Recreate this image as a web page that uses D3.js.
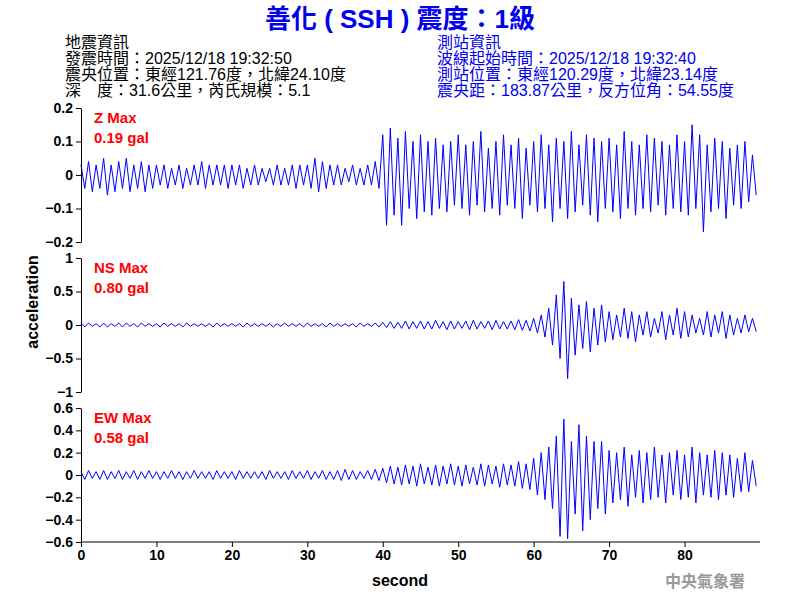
<!DOCTYPE html>
<html>
<head>
<meta charset="utf-8">
<title>SSH</title>
<style>
body{margin:0;background:#fff;}
text{font-family:"Liberation Sans","Noto Sans CJK TC",sans-serif;}
</style>
</head>
<body>
<script src="https://d3js.org/d3.v7.min.js"></script>
<script>
// per-second peak values (gal)
var zMax=[.03,.04,.03,.05,.03,.04,.05,.03,.04,.03,.03,.03,.02,.03,.02,.03,.04,.03,.03,.03,.03,.03,.02,.03,.02,.02,.03,.02,.03,.03,.03,.05,.04,.03,.03,.02,.03,.02,.03,.04,
 .12,.14,.11,.13,.10,.12,.10,.11,.09,.10,.12,.09,.10,.13,.08,.10,.12,.09,.11,.08,.10,.12,.09,.11,.10,.13,.09,.12,.11,.10,.11,.09,.13,.10,.09,.12,.11,.10,.09,.12,.10,.15,.12,.09,.11,.10,.08,.09,.10,.06];
var zMin=[-.04,-.05,-.04,-.06,-.05,-.04,-.05,-.04,-.05,-.04,-.03,-.04,-.03,-.04,-.03,-.03,-.04,-.03,-.03,-.04,-.03,-.04,-.03,-.03,-.02,-.03,-.03,-.03,-.04,-.03,-.04,-.05,-.04,-.03,-.03,-.02,-.03,-.03,-.03,-.04,
 -.15,-.12,-.15,-.10,-.13,-.11,-.12,-.10,-.11,-.09,-.10,-.12,-.09,-.11,-.10,-.12,-.09,-.10,-.13,-.09,-.11,-.10,-.14,-.10,-.13,-.11,-.09,-.12,-.14,-.10,-.11,-.13,-.10,-.12,-.10,-.11,-.09,-.12,-.10,-.11,-.12,-.10,-.17,-.11,-.10,-.13,-.09,-.10,-.08,-.06];
var nsMax=[.03,.03,.02,.03,.02,.03,.03,.02,.03,.02,.02,.03,.02,.02,.03,.02,.02,.02,.03,.02,.02,.02,.03,.02,.02,.02,.02,.03,.02,.02,.03,.02,.02,.03,.02,.02,.02,.03,.02,.03,
 .04,.05,.04,.06,.05,.06,.05,.07,.05,.06,.05,.06,.07,.05,.06,.07,.05,.06,.08,.07,.10,.15,.25,.45,.65,.40,.30,.35,.25,.30,
 .20,.15,.25,.20,.15,.20,.10,.20,.15,.25,.20,.15,.10,.20,.15,.20,.15,.10,.15,.10];
var nsMin=[-.03,-.02,-.03,-.03,-.02,-.03,-.02,-.03,-.02,-.02,-.03,-.02,-.02,-.03,-.02,-.02,-.02,-.03,-.02,-.02,-.02,-.03,-.02,-.02,-.02,-.03,-.02,-.02,-.02,-.03,-.02,-.02,-.03,-.02,-.02,-.02,-.03,-.02,-.02,-.03,
 -.04,-.05,-.05,-.06,-.05,-.06,-.06,-.05,-.07,-.06,-.05,-.07,-.06,-.05,-.07,-.06,-.06,-.07,-.08,-.09,-.12,-.18,-.30,-.50,-.80,-.45,-.35,-.40,-.30,-.25,
 -.22,-.18,-.20,-.25,-.15,-.18,-.12,-.22,-.15,-.20,-.18,-.12,-.15,-.18,-.12,-.20,-.15,-.12,-.10,-.10];
var ewMax=[.03,.04,.03,.04,.03,.04,.03,.04,.03,.04,.03,.03,.04,.03,.03,.04,.03,.03,.04,.03,.03,.04,.03,.03,.03,.04,.03,.03,.04,.03,.04,.03,.04,.03,.04,.05,.04,.03,.04,.05,
 .06,.08,.07,.09,.08,.10,.07,.09,.08,.10,.08,.09,.07,.10,.09,.08,.10,.09,.12,.10,.15,.20,.25,.35,.50,.30,.45,.35,.30,.30,
 .22,.20,.25,.18,.22,.20,.25,.18,.20,.22,.18,.25,.20,.18,.22,.20,.18,.15,.20,.13];
var ewMin=[-.04,-.03,-.04,-.04,-.03,-.04,-.03,-.04,-.03,-.03,-.04,-.03,-.03,-.04,-.03,-.03,-.03,-.04,-.03,-.03,-.04,-.03,-.03,-.03,-.04,-.03,-.03,-.04,-.03,-.03,-.04,-.03,-.04,-.04,-.05,-.04,-.04,-.03,-.04,-.05,
 -.07,-.08,-.09,-.08,-.10,-.08,-.09,-.10,-.08,-.09,-.10,-.08,-.09,-.10,-.08,-.11,-.09,-.10,-.12,-.13,-.18,-.22,-.30,-.55,-.57,-.35,-.50,-.40,-.30,-.35,
 -.25,-.22,-.28,-.20,-.25,-.22,-.20,-.25,-.18,-.22,-.20,-.25,-.18,-.20,-.22,-.18,-.20,-.15,-.15,-.10];
var panels=[
 {label:"Z Max",peak:"0.19 gal",max:zMax,min:zMin,dom:[-0.2,0.2],ticks:[-0.2,-0.1,0,0.1,0.2],top:108},
 {label:"NS Max",peak:"0.80 gal",max:nsMax,min:nsMin,dom:[-1,1],ticks:[-1,-0.5,0,0.5,1],top:258},
 {label:"EW Max",peak:"0.58 gal",max:ewMax,min:ewMin,dom:[-0.6,0.6],ticks:[-0.6,-0.4,-0.2,0,0.2,0.4,0.6],top:408}
];
var xTicks=[0,10,20,30,40,50,60,70,80];
var eqInfo=["地震資訊","發震時間：2025/12/18 19:32:50","震央位置：東經121.76度，北緯24.10度","深　度：31.6公里，芮氏規模：5.1"];
var stInfo=["測站資訊","波線起始時間：2025/12/18 19:32:40","測站位置：東經120.29度，北緯23.14度","震央距：183.87公里，反方位角：54.55度"];

var svg=d3.select("body").append("svg").attr("width",800).attr("height",600);
var x=d3.scaleLinear().domain([0,90]).range([81,760]);
var ph=134;

svg.append("text").attr("x",400).attr("y",28).attr("text-anchor","middle")
 .attr("font-size",26).attr("font-weight","bold").attr("fill","#0000ee").text("善化 ( SSH ) 震度：1級");
svg.selectAll(".eq").data(eqInfo).enter().append("text").attr("x",65).attr("y",function(d,i){return 48+i*16;})
 .attr("font-size",16).attr("fill","#000").attr("textLength",i=>[70,235,292,260][i]).text(function(d){return d;});
svg.selectAll(".st").data(stInfo).enter().append("text").attr("x",437).attr("y",function(d,i){return 48+i*16;})
 .attr("font-size",16).attr("fill","#0000ee").attr("textLength",i=>0).text(function(d){return d;});
svg.selectAll("text[textLength='0']").attr("textLength",null);
svg.selectAll("text").filter(function(){return this.getAttribute("textLength")==="undefined";}).attr("textLength",null);

panels.forEach(function(p){
  var y=d3.scaleLinear().domain(p.dom).range([p.top+ph,p.top]);
  var pts=[];
  p.max.forEach(function(v,i){pts.push([i,v]);pts.push([i+0.5,p.min[i]]);});
  svg.append("path").datum(pts).attr("fill","none").attr("stroke","#0000ff").attr("stroke-width",1)
   .attr("d",d3.line().x(function(d){return x(d[0]);}).y(function(d){return y(d[1]);}));
  var ax=svg.append("g").attr("transform","translate(81,0)")
   .call(d3.axisLeft(y).tickValues(p.ticks).tickSize(5).tickSizeOuter(0).tickFormat(d3.format("")));
  ax.selectAll("text").attr("font-size",14).attr("font-weight","bold").attr("fill","#000");
  ax.select(".domain").attr("stroke","#000");
  svg.append("text").attr("x",94).attr("y",p.top+15).attr("font-size",15).attr("font-weight","bold").attr("fill","#ff0000").text(p.label);
  svg.append("text").attr("x",94).attr("y",p.top+35).attr("font-size",15).attr("font-weight","bold").attr("fill","#ff0000").text(p.peak);
});

var xa=svg.append("g").attr("transform","translate(0,542)")
 .call(d3.axisBottom(x).tickValues(xTicks).tickSize(5).tickSizeOuter(0).tickFormat(d3.format("d")));
xa.selectAll("text").attr("font-size",14).attr("font-weight","bold");
xa.select(".domain").attr("d","M81,0H760");
svg.append("text").attr("x",400).attr("y",586).attr("text-anchor","middle").attr("font-size",16).attr("font-weight","bold").text("second");
svg.append("text").attr("transform","translate(38,302) rotate(-90)").attr("text-anchor","middle").attr("font-size",16).attr("font-weight","bold").text("acceleration");
svg.append("text").attr("x",745).attr("y",587).attr("text-anchor","end").attr("font-size",16).attr("font-weight","bold").attr("fill","#999").text("中央氣象署");
</script>
</body>
</html>
